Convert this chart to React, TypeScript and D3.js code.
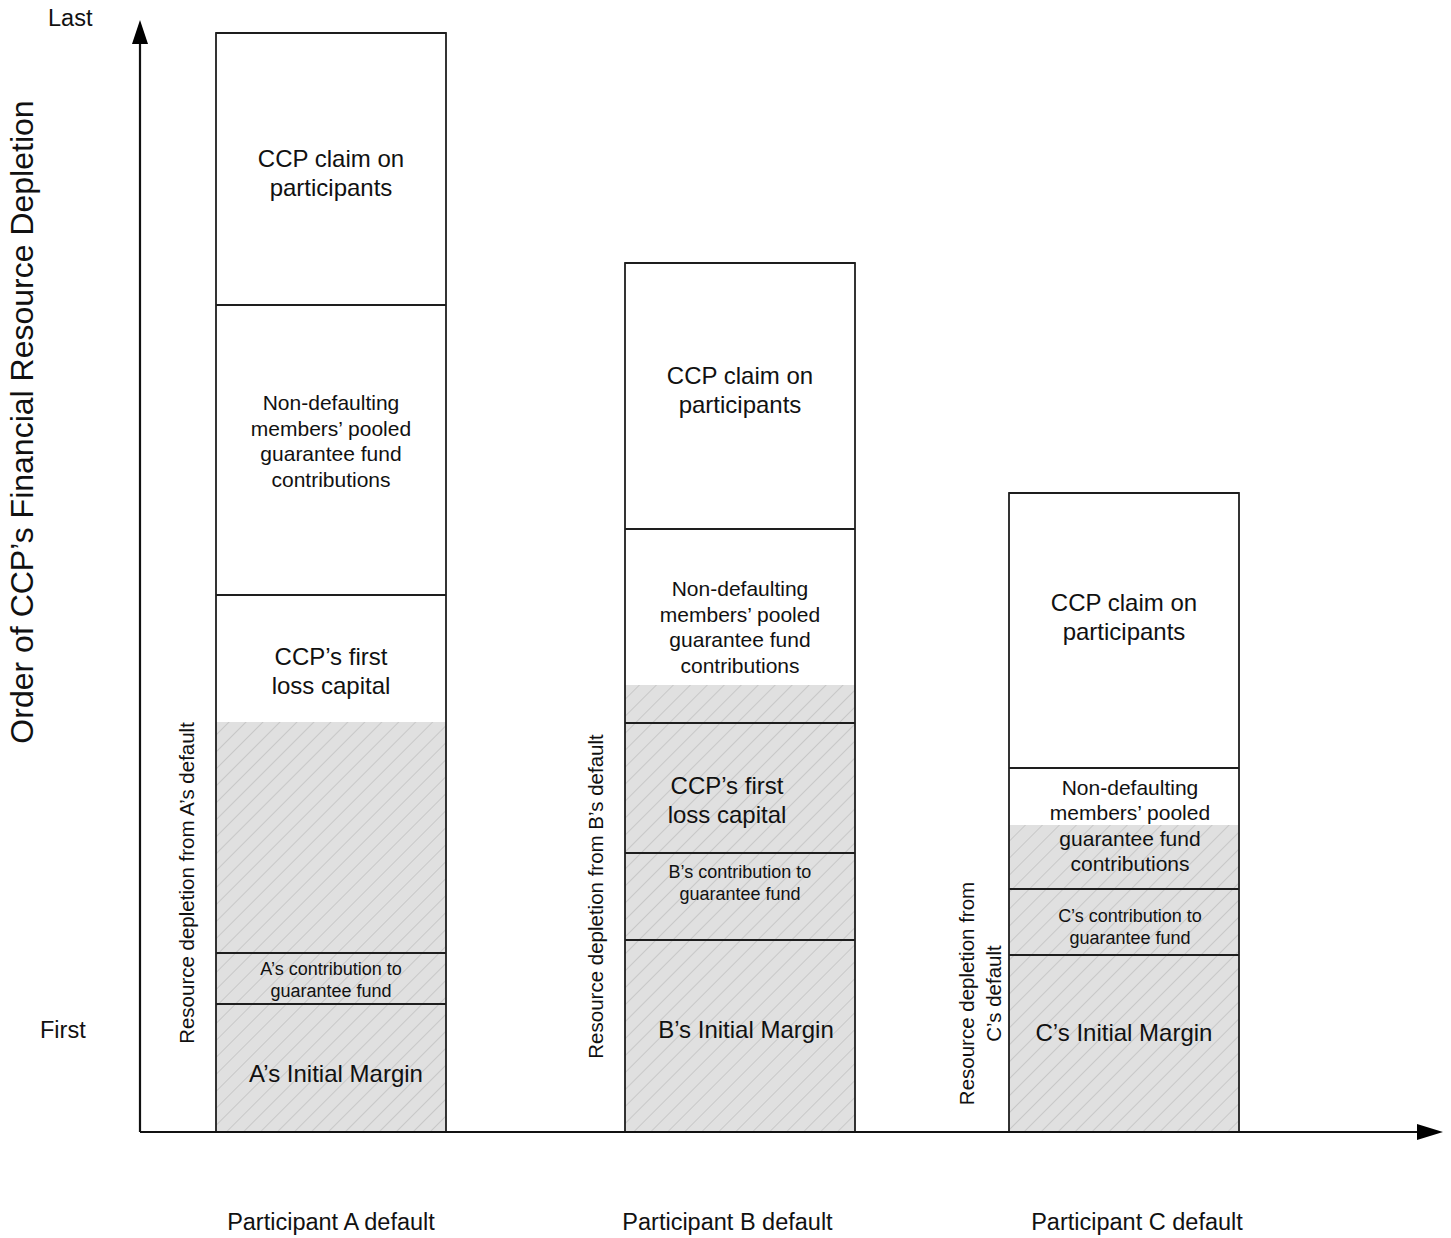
import React from "react";
import * as d3 from "d3";

// ---------- data ----------
const scenarios = ["Participant A default", "Participant B default", "Participant C default"];
const defaulters = ["A", "B", "C"];
// stacked resource layers (bottom to top), in relative units
const initialMargin = [128, 192, 177];
const ownContribution = [51, 87, 66];
const firstLossCapital = [358, 130, 0];
const pooledContributions = [290, 194, 121];
const claimOnParticipants = [272, 266, 275];
// amount of resources depleted by each default
const depletion = [410, 447, 307];

const yTickLabels = ["First", "Last"];
const yTitle = "Order of CCP\u2019s Financial Resource Depletion";

// ---------- layout ----------
const W = 1451;
const H = 1238;
const AX_X = 140;
const AX_Y = 1132;
const FONT = "'Liberation Sans', Arial, Helvetica, sans-serif";
const barNudge = [0, 12.5, 0];
const catLabelNudge = [0, 0, 13];
const depLabelNudge = [-44, -12, 15];

const layers: { key: string; vals: number[]; lines: (d: string) => string[]; size: number; lh: number }[] = [
  { key: "im", vals: initialMargin, lines: (d) => [`${d}\u2019s Initial Margin`], size: 24, lh: 29 },
  { key: "own", vals: ownContribution, lines: (d) => [`${d}\u2019s contribution to`, "guarantee fund"], size: 18, lh: 22 },
  { key: "flc", vals: firstLossCapital, lines: () => ["CCP\u2019s first", "loss capital"], size: 24, lh: 29 },
  {
    key: "pool",
    vals: pooledContributions,
    lines: () => ["Non-defaulting", "members\u2019 pooled", "guarantee fund", "contributions"],
    size: 21,
    lh: 25.5,
  },
  { key: "claim", vals: claimOnParticipants, lines: () => ["CCP claim on", "participants"], size: 24, lh: 29 },
];

// per bar, per layer label nudges [dx, dy]
const labelNudge: Record<string, [number, number]>[] = [
  { im: [5, 6], own: [0, 1], flc: [0, -103], pool: [0, -9], claim: [0, 4] },
  { im: [6, -6], own: [0, -14], flc: [-13, 12], pool: [0, 1], claim: [0, -6] },
  { im: [0, -11], own: [6, 5], flc: [0, 0], pool: [6, -3], claim: [0, -13] },
];

export default function App() {
  const x = d3.scaleBand<string>().domain(scenarios).range([216, 1239]).paddingInner(333 / 793);
  const y = d3.scaleLinear().domain([0, 1100]).range([AX_Y, 32]);
  const BAR_W = x.bandwidth();

  const bars = scenarios.map((s, i) => {
    const stack = d3.stack<any>().keys(layers.map((l) => l.key))([
      Object.fromEntries(layers.map((l) => [l.key, l.vals[i]])),
    ]);
    return { s, i, left: (x(s) as number) + barNudge[i], stack };
  });

  const stroke = "#1e1e1e";

  return (
    <svg
      width={W}
      height={H}
      style={{ position: "absolute", left: 0, top: 0, background: "#fff" }}
      fontFamily={FONT}
    >
      <defs>
        <pattern
          id="hatch"
          patternUnits="userSpaceOnUse"
          width={12}
          height={12}
          patternTransform="rotate(45)"
        >
          <rect width={12} height={12} fill="#e0e0e0" />
          <line x1={0} y1={0} x2={0} y2={12} stroke="#c2c2c2" strokeWidth={1.6} />
        </pattern>
      </defs>

      {bars.map((b) => {
        const top = y(d3.sum(layers, (l) => l.vals[b.i]));
        return (
          <g key={b.s}>
            {/* depletion shading */}
            <rect
              x={b.left}
              y={y(depletion[b.i])}
              width={BAR_W}
              height={AX_Y - y(depletion[b.i])}
              fill="url(#hatch)"
            />
            {/* segment lines */}
            {b.stack.map((series) => {
              const [y0, y1] = series[0];
              if (y1 - y0 <= 0) return null;
              return (
                <line
                  key={series.key}
                  x1={b.left}
                  x2={b.left + BAR_W}
                  y1={y(y1)}
                  y2={y(y1)}
                  stroke={stroke}
                  strokeWidth={1.8}
                />
              );
            })}
            {/* outline */}
            <rect
              x={b.left}
              y={top}
              width={BAR_W}
              height={AX_Y - top}
              fill="none"
              stroke={stroke}
              strokeWidth={1.8}
            />
            {/* labels */}
            {b.stack.map((series, li) => {
              const [y0, y1] = series[0];
              if (y1 - y0 <= 0) return null;
              const layer = layers[li];
              const lines = layer.lines(defaulters[b.i]);
              const nd = labelNudge[b.i][layer.key] || [0, 0];
              const cx = b.left + BAR_W / 2 + nd[0];
              const cy = (y(y0) + y(y1)) / 2 + nd[1];
              return (
                <text key={"t" + series.key} textAnchor="middle" fontSize={layer.size} fill="#111">
                  {lines.map((ln, k) => (
                    <tspan key={k} x={cx} y={cy + (k - (lines.length - 1) / 2) * layer.lh} dy="0.35em">
                      {ln}
                    </tspan>
                  ))}
                </text>
              );
            })}
            {/* depletion label (rotated) */}
            {(() => {
              const cx = b.left - 29;
              const cy = (y(depletion[b.i]) + AX_Y) / 2 + depLabelNudge[b.i];
              const lines =
                b.i === 2
                  ? ["Resource depletion from", `${defaulters[b.i]}\u2019s default`]
                  : [`Resource depletion from ${defaulters[b.i]}\u2019s default`];
              return (
                <text
                  transform={`translate(${cx},${cy}) rotate(-90)`}
                  textAnchor="middle"
                  fontSize={20.5}
                  fill="#111"
                >
                  {lines.map((ln, k) => (
                    <tspan key={k} x={0} y={(k - (lines.length - 1) / 2) * 27} dy="0.35em">
                      {ln}
                    </tspan>
                  ))}
                </text>
              );
            })()}
            {/* category label */}
            <text
              x={(x(b.s) as number) + BAR_W / 2 + catLabelNudge[b.i]}
              y={1230}
              textAnchor="middle"
              fontSize={23.5}
              fill="#111"
            >
              {b.s}
            </text>
          </g>
        );
      })}

      {/* axes */}
      <line x1={AX_X} y1={AX_Y} x2={AX_X} y2={40} stroke="#111" strokeWidth={2.2} />
      <path d={`M${AX_X},20 L${AX_X - 8},44 L${AX_X + 8},44 Z`} fill="#000" />
      <line x1={AX_X} y1={AX_Y} x2={1420} y2={AX_Y} stroke="#111" strokeWidth={2.2} />
      <path d={`M1443,${AX_Y} L1417,${AX_Y - 8} L1417,${AX_Y + 8} Z`} fill="#000" />

      {/* y tick labels */}
      <text x={40} y={1038} fontSize={23.5} fill="#111">
        {yTickLabels[0]}
      </text>
      <text x={48} y={26} fontSize={23.5} fill="#111">
        {yTickLabels[1]}
      </text>

      {/* y title */}
      <text
        transform={`translate(22,422) rotate(-90)`}
        textAnchor="middle"
        dy="0.35em"
        fontSize={32}
        fill="#111"
      >
        {yTitle}
      </text>
    </svg>
  );
}
